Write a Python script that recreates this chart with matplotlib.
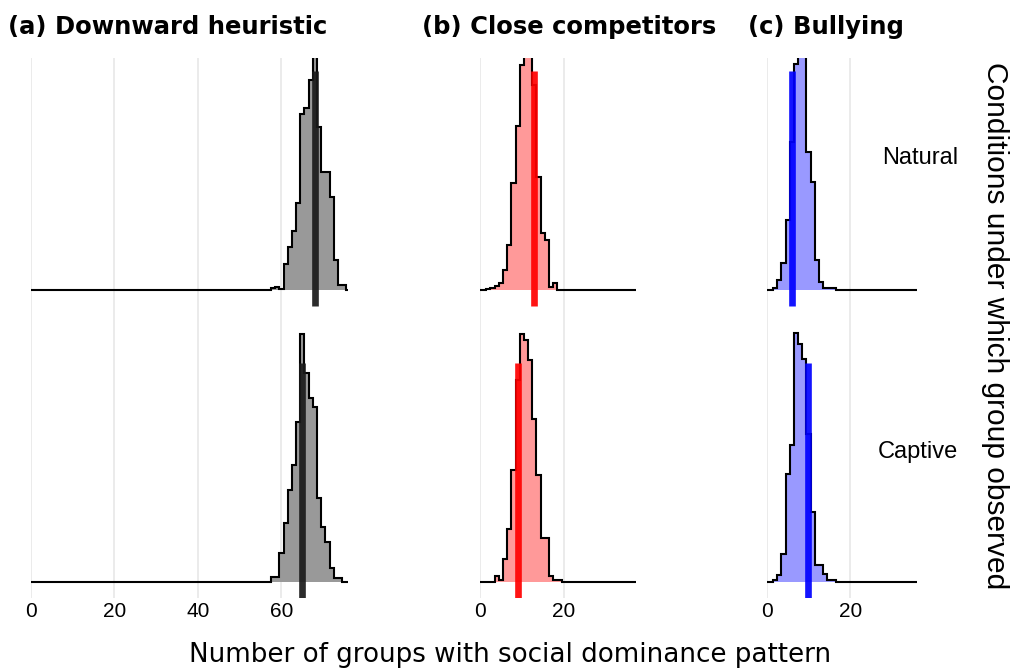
import numpy as np
import matplotlib
matplotlib.use("Agg")
import matplotlib.pyplot as plt

# simulated counts per bin (bin width 1, centred on integers)
a_nat_k = list(range(58, 76))
a_nat = [2, 3, 1, 26, 43, 59, 87, 176, 182, 210, 240, 163, 118, 118, 93, 30, 5, 5]
a_cap_k = list(range(58, 76))
a_cap = [5, 5, 29, 59, 92, 117, 160, 248, 209, 184, 175, 84, 55, 40, 14, 4, 4, 0]

b_nat_k = list(range(2, 19))
b_nat = [1, 2, 4, 7, 20, 45, 107, 164, 225, 240, 240, 205, 113, 57, 50, 3, 7]
b_cap_k = list(range(4, 20))
b_cap = [6, 2, 23, 53, 112, 202, 248, 242, 222, 163, 107, 44, 44, 6, 2, 2]

c_nat_k = list(range(2, 17))
c_nat = [2, 10, 27, 70, 148, 226, 240, 240, 138, 108, 30, 8, 2, 2, 2]
c_cap_k = list(range(2, 17))
c_cap = [2, 7, 28, 108, 137, 249, 238, 223, 148, 70, 17, 17, 8, 2, 2]

# observed values
obs_a = {"Natural": 68, "Captive": 65}
obs_b = {"Natural": 13, "Captive": 9}
obs_c = {"Natural": 6, "Captive": 10}

titles = ["(a) Downward heuristic", "(b) Close competitors", "(c) Bullying"]
xmax = [76, 37.3, 36]
xticks = [[0, 20, 40, 60], [0, 20], [0, 20]]
fills = ["#999999", "#ff9999", "#9999ff"]
lines = ["#1a1a1a", "#ff0000", "#0000ff"]

rows = {"Natural": 2, "Captive": 1}
ridge_scale = 1 / 292.0

W, H = 1012, 669
fig = plt.figure(figsize=(W / 100, H / 100), dpi=100)

px_per_unit = 4.18
lefts = [30.7, 480, 766.7]
ax_bottom = (H - 598) / H
ax_height = 540 / H

panels = [
    ((a_nat_k, a_nat), (a_cap_k, a_cap), obs_a),
    ((b_nat_k, b_nat), (b_cap_k, b_cap), obs_b),
    ((c_nat_k, c_nat), (c_cap_k, c_cap), obs_c),
]


def full_bins(ks, counts, xm):
    # pad with zero bins so the outline runs along the whole baseline
    allk = np.arange(0, int(np.ceil(xm)) + 1)
    vals = np.zeros(len(allk))
    for k, c in zip(ks, counts):
        vals[k] = c
    edges = np.append(allk - 0.5, allk[-1] + 0.5)
    return edges, vals


for i, (nat, cap, obs) in enumerate(panels):
    ax = fig.add_axes([lefts[i] / W, ax_bottom, xmax[i] * px_per_unit / W, ax_height])
    ax.set_xlim(0, xmax[i])
    ax.set_ylim(1 - 16 / 292, 2 + 232 / 292)
    for g in xticks[i]:
        ax.axvline(g, color="#ebebeb", lw=1.4, zorder=0)

    for name, (ks, counts) in (("Natural", nat), ("Captive", cap)):
        base = rows[name]
        edges, vals = full_bins(ks, counts, xmax[i])
        ax.stairs(vals * ridge_scale + base, edges, baseline=base, fill=True,
                  color=fills[i], lw=0, zorder=1)
        ax.stairs(vals * ridge_scale + base, edges, baseline=None,
                  color="black", lw=1.5, zorder=2)
        ax.plot([obs[name], obs[name]], [base - 0.055, base + 0.75],
                color=lines[i], lw=4.8, alpha=0.92, solid_capstyle="butt", zorder=3)

    ax.set_xticks(xticks[i])
    ax.set_xticklabels([str(t) for t in xticks[i]], family="Liberation Sans", fontsize=15)
    ax.tick_params(axis="x", length=0, pad=3)
    ax.set_yticks([])
    for s in ax.spines.values():
        s.set_visible(False)

title_x = [8, 422, 748]
for t, x in zip(titles, title_x):
    fig.text(x / W, 1 - 27 / H, t, ha="left", va="center", fontsize=17.5,
             fontweight="bold", family="DejaVu Sans")

fig.text(958 / W, 1 - 158 / H, "Natural", ha="right", va="center",
         family="Liberation Sans", fontsize=17)
fig.text(958 / W, 1 - 452 / H, "Captive", ha="right", va="center",
         family="Liberation Sans", fontsize=17)

fig.text(510 / W, 1 - 655 / H, "Number of groups with social dominance pattern",
         ha="center", va="center", fontsize=18.8, family="DejaVu Sans")
fig.text(995 / W, 1 - 326 / H, "Conditions under which group observed",
         ha="center", va="center", rotation=270, fontsize=21.5, family="Liberation Sans")

fig.savefig("out.png", dpi=100)
